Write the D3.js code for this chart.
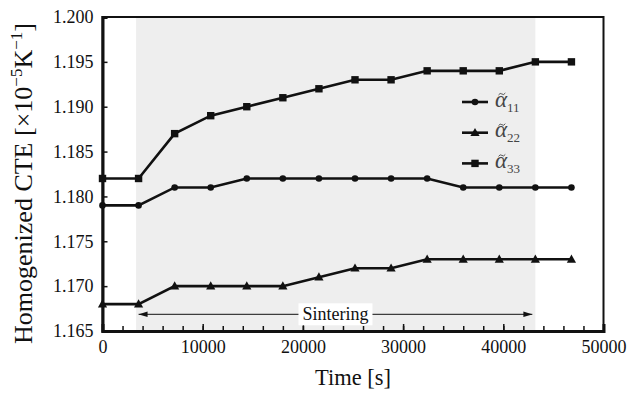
<!DOCTYPE html>
<html>
<head>
<meta charset="utf-8">
<script src="https://cdn.jsdelivr.net/npm/d3@7"></script>
<style>
  body { margin: 0; background: #fff; }
</style>
</head>
<body>
<div id="chart"></div>
<script>
// sampling times (s)
const times = [0, 3600, 7200, 10800, 14400, 18000, 21600, 25200, 28800, 32400, 36000, 39600, 43200, 46800];
const a11 = [1.179, 1.179, 1.181, 1.181, 1.182, 1.182, 1.182, 1.182, 1.182, 1.182, 1.181, 1.181, 1.181, 1.181];
const a22 = [1.168, 1.168, 1.170, 1.170, 1.170, 1.170, 1.171, 1.172, 1.172, 1.173, 1.173, 1.173, 1.173, 1.173];
const a33 = [1.182, 1.182, 1.187, 1.189, 1.190, 1.191, 1.192, 1.193, 1.193, 1.194, 1.194, 1.194, 1.195, 1.195];
const xTicks = [0, 10000, 20000, 30000, 40000, 50000];
const yTicks = [1.165, 1.170, 1.175, 1.180, 1.185, 1.190, 1.195, 1.200];
const sinterSpan = [3350, 43200];
const sinterArrow = [3600, 42900];

const width = 627, height = 394;
const margin = {top: 17, right: 23.5, bottom: 63, left: 102.5};
const FONT = "'Liberation Serif', serif";

const x = d3.scaleLinear().domain([0, 50000]).range([margin.left, width - margin.right]);
const y = d3.scaleLinear().domain([1.165, 1.200]).range([height - margin.bottom, margin.top]);

const svg = d3.select("#chart").append("svg")
  .attr("width", width)
  .attr("height", height);

// sintering shade
svg.append("rect")
  .attr("x", x(sinterSpan[0]))
  .attr("y", y(1.2))
  .attr("width", x(sinterSpan[1]) - x(sinterSpan[0]))
  .attr("height", y(1.165) - y(1.2))
  .attr("fill", "#eeeeee");

// frame
svg.append("rect")
  .attr("x", x(0)).attr("y", y(1.2))
  .attr("width", x(50000) - x(0))
  .attr("height", y(1.165) - y(1.2))
  .attr("fill", "none")
  .attr("stroke", "#111")
  .attr("stroke-width", 2);

// x axis minor ticks
svg.append("g")
  .attr("transform", `translate(0,${y(1.165)})`)
  .call(d3.axisBottom(x).tickValues(d3.range(0, 50001, 2000)).tickSize(-5).tickFormat(""))
  .call(g => g.select(".domain").remove())
  .call(g => g.selectAll(".tick line").attr("stroke", "#111").attr("stroke-width", 1.5));

svg.append("g")
  .attr("transform", `translate(0,${y(1.165)})`)
  .call(d3.axisBottom(x).tickValues(xTicks).tickSize(-7).tickPadding(9).tickFormat(d3.format("d")))
  .call(g => g.select(".domain").attr("stroke", "#111").attr("stroke-width", 3))
  .call(g => g.selectAll(".tick line").attr("stroke", "#111").attr("stroke-width", 1.5))
  .call(g => g.selectAll(".tick text")
    .attr("fill", "#111")
    .style("font-family", FONT)
    .style("font-size", "18px"));

// y axis
svg.append("g")
  .attr("transform", `translate(${x(0)},0)`)
  .call(d3.axisLeft(y).tickValues(yTicks).tickSize(-5).tickPadding(9).tickFormat(d3.format(".3f")))
  .call(g => g.select(".domain").attr("stroke", "#111").attr("stroke-width", 3))
  .call(g => g.selectAll(".tick line").attr("stroke", "#111").attr("stroke-width", 1.5))
  .call(g => g.selectAll(".tick text")
    .attr("fill", "#111")
    .style("font-family", FONT)
    .style("font-size", "18px"));

// axis titles
svg.append("text")
  .attr("x", (x(0) + x(50000)) / 2)
  .attr("y", 385)
  .attr("text-anchor", "middle")
  .style("font-family", FONT)
  .style("font-size", "22.5px")
  .attr("fill", "#111")
  .text("Time [s]");

const yt = svg.append("text")
  .attr("transform", `translate(32,183.5) rotate(-90)`)
  .attr("text-anchor", "middle")
  .style("font-family", FONT)
  .style("font-size", "26px")
  .attr("fill", "#111");
yt.append("tspan").text("Homogenized CTE [×10");
yt.append("tspan").style("font-size", "17px").attr("dy", -10).text("−5");
yt.append("tspan").attr("dy", 10).text("K");
yt.append("tspan").style("font-size", "17px").attr("dy", -10).text("−1");
yt.append("tspan").attr("dy", 10).text("]");

// series
const series = [
  {key: "11", values: a11, shape: "circle"},
  {key: "22", values: a22, shape: "triangle"},
  {key: "33", values: a33, shape: "square"}
];

const line = d3.line().x(d => x(d[0])).y(d => y(d[1]));

function marker(g, shape) {
  if (shape === "circle") {
    g.append("circle").attr("r", 3.3).attr("fill", "#111");
  } else if (shape === "square") {
    g.append("rect").attr("x", -3.7).attr("y", -3.7).attr("width", 7.4).attr("height", 7.4).attr("fill", "#111");
  } else {
    g.append("path").attr("d", "M0,-4.8L4.6,3.4L-4.6,3.4Z").attr("fill", "#111");
  }
}

series.forEach(s => {
  const pts = times.map((t, i) => [t, s.values[i]]);
  svg.append("path")
    .datum(pts)
    .attr("fill", "none")
    .attr("stroke", "#111")
    .attr("stroke-width", 2.6)
    .attr("d", line);
  svg.append("g").selectAll("g")
    .data(pts)
    .join("g")
    .attr("transform", d => `translate(${x(d[0])},${y(d[1])})`)
    .each(function() { marker(d3.select(this), s.shape); });
});

// sintering arrow
const defs = svg.append("defs");
defs.append("marker")
  .attr("id", "arr")
  .attr("viewBox", "0 0 10 10")
  .attr("refX", 10).attr("refY", 5)
  .attr("markerWidth", 9).attr("markerHeight", 9)
  .attr("markerUnits", "userSpaceOnUse")
  .attr("orient", "auto-start-reverse")
  .append("path")
  .attr("d", "M0,2L10,5L0,8Z")
  .attr("fill", "#111");

const ay = 314.3;
svg.append("line")
  .attr("x1", x(sinterArrow[0])).attr("x2", x(sinterArrow[1]))
  .attr("y1", ay).attr("y2", ay)
  .attr("stroke", "#111")
  .attr("stroke-width", 1)
  .attr("marker-start", "url(#arr)")
  .attr("marker-end", "url(#arr)");

const midX = x((sinterArrow[0] + sinterArrow[1]) / 2);
svg.append("rect")
  .attr("x", midX - 37).attr("y", ay - 11)
  .attr("width", 74).attr("height", 22)
  .attr("fill", "#fff");
svg.append("text")
  .attr("x", midX)
  .attr("y", ay + 5.5)
  .attr("text-anchor", "middle")
  .style("font-family", FONT)
  .style("font-size", "18px")
  .attr("fill", "#111")
  .text("Sintering");

// legend
const legend = svg.append("g");
series.forEach((s, i) => {
  const ly = 102 + i * 30.7;
  const g = legend.append("g").attr("transform", `translate(475,${ly})`);
  g.append("line").attr("x1", -13).attr("x2", 13)
    .attr("stroke", "#111").attr("stroke-width", 2.6);
  marker(g, s.shape);
  g.append("text")
    .attr("x", 20).attr("y", 4.5)
    .style("font-family", FONT)
    .style("font-size", "23px")
    .style("font-style", "italic")
    .attr("fill", "#444")
    .text("α");
  // tilde over alpha
  g.append("path")
    .attr("d", "M23.5,-7 q1.6,-2.6 3.4,-1 t3.4,-1")
    .attr("fill", "none")
    .attr("stroke", "#444")
    .attr("stroke-width", 0.9);
  g.append("text")
    .attr("x", 32).attr("y", 9.5)
    .style("font-family", FONT)
    .style("font-size", "13px")
    .attr("fill", "#444")
    .text(s.key);
});
</script>
</body>
</html>
